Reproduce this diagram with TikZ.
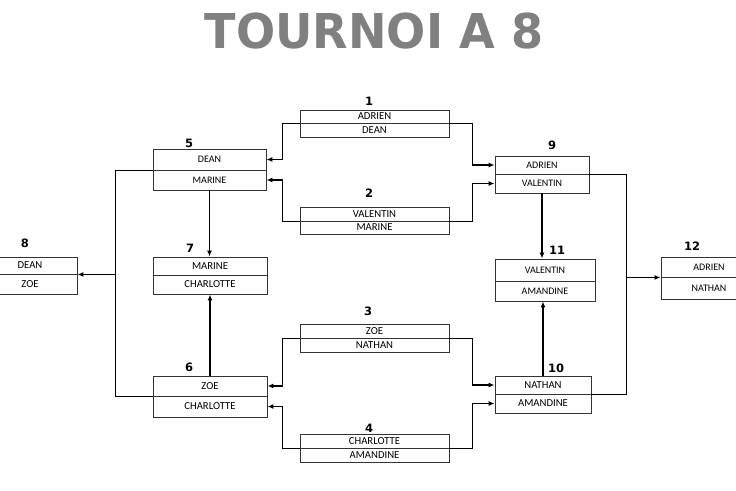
\documentclass[tikz,border=0pt]{standalone}
\usepackage{fontspec}
\setmainfont{Carlito}
\newfontfamily\numfont{DejaVu Sans}
\usetikzlibrary{arrows.meta}
\newcommand\sm{\fontsize{10}{12}\selectfont}
\newcommand\duel[8]{%
  \node[row, minimum width={(#3-#2)*1pt}, minimum height={(#5-#4)*1pt}] (#1a) at ({(#2+#3)/2},{(#4+#5)/2}) {#7};
  \node[row, minimum width={(#3-#2)*1pt}, minimum height={(#6-#5)*1pt}] (#1b) at ({(#2+#3)/2},{(#5+#6)/2}) {#8};
}
\begin{document}
\begin{tikzpicture}[x=1pt,y=-1pt,
  row/.style={draw=black!80, line width=0.9pt, inner sep=0pt, font=\fontsize{10.7}{12}\selectfont},
  num/.style={font=\numfont\bfseries\fontsize{11.5}{12}\selectfont, inner sep=0pt},
  conn/.style={line width=1.8pt, -{Latex[length=6pt,width=5pt]}},
  link/.style={line width=1.8pt}]
\useasboundingbox[clip] (0,0) rectangle (736,490);
\fill[white] (0,0) rectangle (736,490);
\node[font=\numfont\bfseries\fontsize{48}{50}\selectfont, text=black!50, xscale=0.96] (title) at (374,31) {TOURNOI A 8};
% boxes
\duel{b1}{300}{449}{110}{123}{137}{ADRIEN}{DEAN}
\duel{b2}{300}{449}{207}{221}{234}{VALENTIN}{MARINE}
\duel{b3}{300}{449}{324}{338}{352}{ZOE}{NATHAN}
\duel{b4}{300}{449}{434}{448}{462}{CHARLOTTE}{AMANDINE}
\duel{b5}{153}{266}{149}{170}{190}{\sm DEAN}{\sm MARINE}
\duel{b6}{153}{267}{376}{396}{417}{ZOE}{CHARLOTTE}
\duel{b7}{153}{267}{257}{275}{294}{MARINE}{CHARLOTTE}
\duel{b8}{-17}{77}{257}{274}{294}{DEAN}{ZOE}
\duel{b9}{495}{589}{156}{174}{193}{\sm ADRIEN}{\sm VALENTIN}
\duel{b10}{495}{591}{376}{394}{413}{NATHAN}{AMANDINE}
\duel{b11}{495}{595}{259}{281}{301}{\sm VALENTIN}{\sm AMANDINE}
\duel{b12}{661}{757}{257}{277}{299}{\sm ADRIEN}{\sm NATHAN}
% numbers
\node[num] (n1) at (369,101) {1};
\node[num] (n2) at (369,193) {2};
\node[num] (n3) at (368,311) {3};
\node[num] (n4) at (369,428) {4};
\node[num] (n5) at (189,143) {5};
\node[num] (n6) at (189,367) {6};
\node[num] (n7) at (190,248) {7};
\node[num] (n8) at (25,243) {8};
\node[num] (n9) at (552,145) {9};
\node[num] (n10) at (556,368) {10};
\node[num] (n11) at (557,250) {11};
\node[num] (n12) at (692,246) {12};
% connectors round 1 -> left
\draw[conn] (b1a.south west) -- ++(-17,0) |- (b5a.east);
\draw[conn] (b2a.south west) -- ++(-17,0) |- (b5b.east);
\draw[conn] (b3a.south west) -- ++(-17,0) |- (b6a.east);
\draw[conn] (b4a.south west) -- ++(-17,0) |- (b6b.east);
% round 1 -> right
\draw[conn] (b1a.south east) -- ++(23,0) |- (b9a.west);
\draw[conn] (b2a.south east) -- ++(23,0) |- (b9b.west);
\draw[conn] (b3a.south east) -- ++(23,0) |- (b10a.west);
\draw[conn] (b4a.south east) -- ++(23,0) |- (b10b.west);
% to 7 and 11
\draw[conn] (b5b.south) -- (b5b.south |- b7a.north);
\draw[conn] (b6a.north) -- (b6a.north |- b7b.south);
\draw[conn] (b9b.south) -- (b9b.south |- b11a.north);
\draw[conn] (b10a.north) -- (b10a.north |- b11b.south);
% finals
\path (b8a.south east) ++(38,0) coordinate (lj);
\draw[link] (b5a.south west) -| (lj) |- (b6a.south west);
\draw[conn] (lj) -- (b8a.south east);
\path (b12a.south west) ++(-34,0) coordinate (rj);
\draw[link] (b9a.south east) -| (rj) |- (b10a.south east);
\draw[conn] (rj) -- (b12a.south west);
\end{tikzpicture}
\end{document}
